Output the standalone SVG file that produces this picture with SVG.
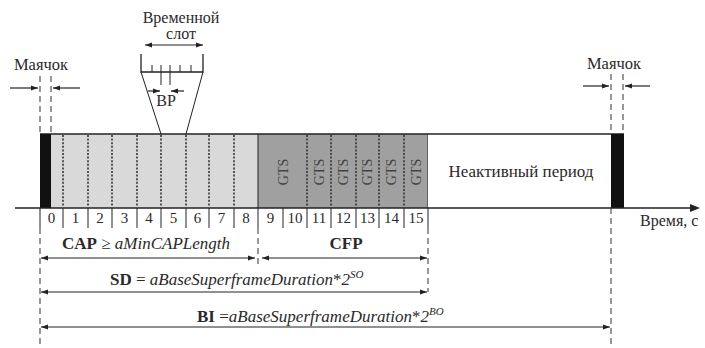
<svg xmlns="http://www.w3.org/2000/svg" width="705" height="348" viewBox="0 0 705 348" font-family="'Liberation Serif', 'DejaVu Serif', serif">
  <defs>
    <marker id="ah" viewBox="0 0 10 10" refX="10" refY="5" markerWidth="10" markerHeight="7" markerUnits="userSpaceOnUse" orient="auto-start-reverse">
      <path d="M0,1.5 L10,5 L0,8.5 Z" fill="#222"/>
    </marker>
    <style>
      text { font-family: "Liberation Serif", "DejaVu Serif", serif; fill: #2a2a2a; }
      .ln { stroke: #222; stroke-width: 1.3; fill: none; }
      .thin { stroke: #222; stroke-width: 1; fill: none; }
      .dot { stroke: #333; stroke-width: 1.6; stroke-dasharray: 2 1.6; fill: none; }
      .dash { stroke: #444; stroke-width: 1.1; stroke-dasharray: 6 4; fill: none; }
      .arr { stroke: #222; stroke-width: 1.2; fill: none; marker-end: url(#ah); }
      .dim { stroke: #222; stroke-width: 1.2; fill: none; marker-start: url(#ah); marker-end: url(#ah); }
      .num { font-size: 15px; text-anchor: middle; }
      .gts { font-size: 14px; text-anchor: middle; fill: #444; }
    </style>
  </defs>

  <!-- contention access period, slots 0..8 -->
  <g id="cap">
    <rect x="40" y="134" width="218" height="74" fill="#d9d9d9"/>
    <path class="dot" d="M63,135V207 M88,135V207 M112,135V207 M137,135V207 M161,135V207 M186,135V207 M209,135V207 M234,135V207"/>
  </g>

  <!-- contention free period, guaranteed time slots -->
  <g id="cfp">
    <rect x="258" y="134" width="170" height="74" fill="#a0a0a0"/>
    <path class="thin" d="M258,134V208 M428,134V208"/>
    <path class="dot" d="M307,135V207 M331,135V207 M356,135V207 M379,135V207 M404,135V207"/>
    <text class="gts" transform="translate(288,172) rotate(-90)">GTS</text>
    <text class="gts" transform="translate(324,172) rotate(-90)">GTS</text>
    <text class="gts" transform="translate(348,172) rotate(-90)">GTS</text>
    <text class="gts" transform="translate(372,172) rotate(-90)">GTS</text>
    <text class="gts" transform="translate(396,172) rotate(-90)">GTS</text>
    <text class="gts" transform="translate(421,172) rotate(-90)">GTS</text>
  </g>

  <!-- inactive period -->
  <g id="inactive">
    <rect x="428" y="134" width="183" height="74" fill="#ffffff"/>
    <text x="521" y="177" font-size="17" text-anchor="middle">Неактивный период</text>
  </g>

  <!-- bar outline -->
  <g id="frame">
    <path class="ln" d="M40,134H624"/>
  </g>

  <!-- beacons -->
  <g id="beacon-left">
    <rect x="40" y="134" width="11" height="74" fill="#111"/>
    <path class="dash" d="M40,76V134 M51,76V134"/>
    <text x="41" y="70" font-size="16.5" text-anchor="middle">Маячок</text>
    <path class="arr" d="M10,88H38"/>
    <path class="arr" d="M80,88H53"/>
  </g>

  <g id="beacon-right">
    <rect x="611" y="134" width="13" height="74" fill="#111"/>
    <path class="dash" d="M611,74V134 M623,74V134"/>
    <text x="614" y="69" font-size="16.5" text-anchor="middle">Маячок</text>
    <path class="arr" d="M583,86H609"/>
    <path class="arr" d="M650,86H625"/>
  </g>

  <!-- time slot detail -->
  <g id="slot-detail">
    <text x="181" y="23" font-size="16" text-anchor="middle">Временной</text>
    <text x="181" y="39" font-size="16" text-anchor="middle">слот</text>
    <path class="dim" d="M145,45H203"/>
    <path class="ln" d="M141,54V72H203V54"/>
    <path class="thin" d="M152,65V72 M161,65V85 M170,65V85 M180,65V72 M191,65V72"/>
    <path class="arr" d="M148,91H160"/>
    <path class="arr" d="M184,91H171"/>
    <text x="166" y="106" font-size="16" text-anchor="middle">BP</text>
    <path class="thin" d="M141,72L161,134 M203,72L186,134"/>
  </g>

  <!-- time axis -->
  <g id="axis">
    <path class="ln" d="M15,208H692"/>
    <path d="M700,208L690,204V212Z" fill="#222"/>
    <text x="640" y="226" font-size="16">Время, с</text>
  </g>

  <!-- slot numbers -->
  <g id="slot-numbers">
    <path class="thin" d="M40,208V228 M63,208V228 M88,208V228 M112,208V228 M137,208V228 M161,208V228 M186,208V228 M209,208V228 M234,208V228 M258,208V228 M283,208V228 M307,208V228 M331,208V228 M356,208V228 M379,208V228 M404,208V228 M428,208V228"/>
    <text class="num" x="51.5" y="223">0</text>
    <text class="num" x="75.5" y="223">1</text>
    <text class="num" x="100" y="223">2</text>
    <text class="num" x="124.5" y="223">3</text>
    <text class="num" x="149" y="223">4</text>
    <text class="num" x="173.5" y="223">5</text>
    <text class="num" x="197.5" y="223">6</text>
    <text class="num" x="221.5" y="223">7</text>
    <text class="num" x="246" y="223">8</text>
    <text class="num" x="270.5" y="223">9</text>
    <text class="num" x="295" y="223">10</text>
    <text class="num" x="319" y="223">11</text>
    <text class="num" x="343.5" y="223">12</text>
    <text class="num" x="367.5" y="223">13</text>
    <text class="num" x="391.5" y="223">14</text>
    <text class="num" x="416" y="223">15</text>
  </g>

  <!-- dimension lines -->
  <g id="connectors">
    <path class="dash" d="M40,228V346 M258,228V264 M428,228V292 M611,208V346"/>
    <path class="dim" d="M41,258H255"/>
    <path class="dim" d="M262,258H427"/>
    <path class="dim" d="M41,292H427"/>
    <path class="dim" d="M41,327H610"/>
  </g>

  <g id="labels" font-size="17">
    <text x="146" y="249" text-anchor="middle"><tspan font-weight="bold">CAP</tspan> ≥ <tspan font-style="italic">aMinCAPLength</tspan></text>
    <text x="346" y="249" text-anchor="middle" font-weight="bold">CFP</text>
    <text x="110" y="285"><tspan font-weight="bold">SD</tspan> = <tspan font-style="italic">aBaseSuperframeDuration</tspan>*<tspan font-style="italic">2</tspan><tspan font-style="italic" font-size="11" dy="-7">SO</tspan></text>
    <text x="197" y="322"><tspan font-weight="bold">BI</tspan> =<tspan font-style="italic">aBaseSuperframeDuration</tspan>*<tspan font-style="italic">2</tspan><tspan font-style="italic" font-size="11" dy="-7">BO</tspan></text>
  </g>
</svg>
